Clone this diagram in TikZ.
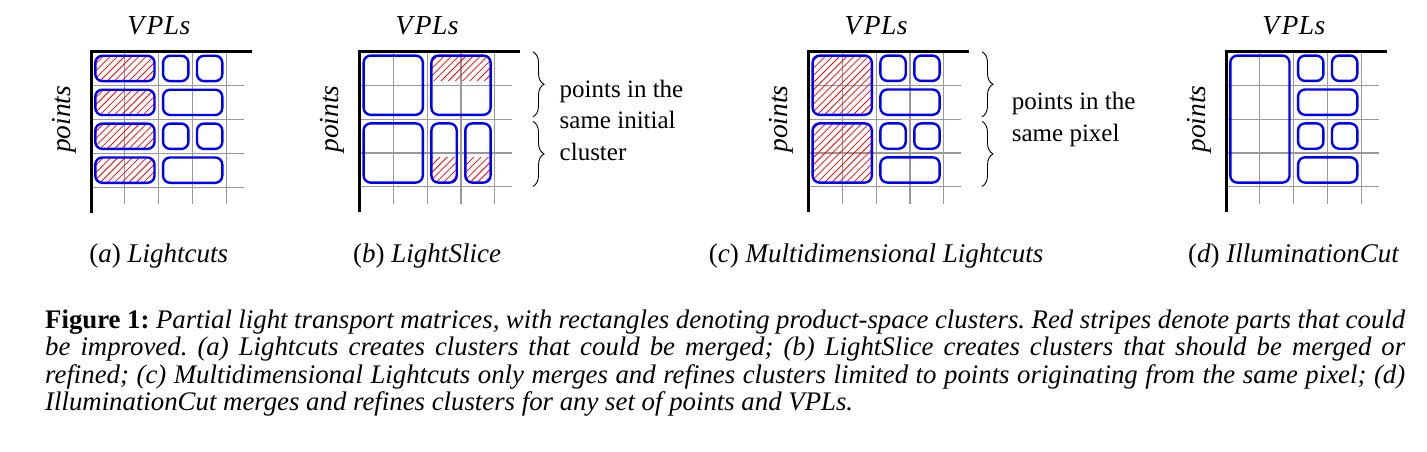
\documentclass[tikz,border=0pt]{standalone}
\usepackage{fontspec}
\setmainfont{Liberation Serif}
\usetikzlibrary{decorations.pathreplacing}
\frenchspacing
\tikzset{
  gridline/.style={draw=black!40, line width=1.1pt},
  axisline/.style={draw=black, line width=3pt, line join=miter},
  cbox/.style={draw=blue, line width=2.4pt, rounded corners=7pt},
  hatchline/.style={draw=red, line width=0.8pt},
  lab/.style={font=\fontsize{27.5}{30}\selectfont\itshape, inner sep=0pt, anchor=base},
  sublab/.style={font=\fontsize{27}{30}\selectfont, inner sep=0pt, anchor=base},
  side/.style={font=\fontsize{25}{32}\selectfont, inner sep=0pt, anchor=base west},
  captext/.style={font=\fontsize{26.8}{27.5}\selectfont, inner sep=0pt, anchor=base west},
  brc/.style={decorate, decoration={brace, amplitude=11pt}, line width=0.9pt},
}
\def\cs{33.9}
\def\ins{4.3}
\newcommand\panel[2]{%
  \def\ox{#1}\def\oy{#2}%
  \foreach \k in {1,...,4} {
    \draw[gridline] ({\ox+\k*\cs},\oy) -- ({\ox+\k*\cs},{\oy+4.5*\cs});
    \draw[gridline] (\ox,{\oy+\k*\cs}) -- ({\ox+4.5*\cs},{\oy+\k*\cs});
  }%
}
\newcommand\axes{%
  \draw[axisline] ({\ox+4.75*\cs},\oy) -- (\ox,\oy) -- (\ox,{\oy+4.75*\cs});%
}
\newcommand\cbx[4]{%
  \draw[cbox] ({\ox+#1*\cs+\ins},{\oy+#2*\cs+\ins}) rectangle ({\ox+(#1+#3)*\cs-\ins},{\oy+(#2+#4)*\cs-\ins});%
}
% hatch: box col,row,w,h ; region col,row,w,h
\newcommand\hatch[8]{%
  \begin{scope}
    \clip[rounded corners=7pt] ({\ox+#1*\cs+\ins},{\oy+#2*\cs+\ins}) rectangle ({\ox+(#1+#3)*\cs-\ins},{\oy+(#2+#4)*\cs-\ins});
    \clip ({\ox+#5*\cs+\ins},{\oy+#6*\cs+\ins}) rectangle ({\ox+(#5+#7)*\cs-\ins},{\oy+(#6+#8)*\cs-\ins});
    \foreach \k in {0,...,45}
      \draw[hatchline] ({\ox+#1*\cs-2.2*\cs+\k*7.2},{\oy+(#2+#4)*\cs}) -- ++({2.2*\cs},{-2.2*\cs});
  \end{scope}%
}
\begin{document}
\begin{tikzpicture}[x=1pt,y=-1pt]
\useasboundingbox (0,0) rectangle (1427,452);

% ---------- (a) Lightcuts
\panel{91}{51.5}
\hatch{0}{0}{2}{1}{0}{0}{2}{1}
\hatch{0}{1}{2}{1}{0}{1}{2}{1}
\hatch{0}{2}{2}{1}{0}{2}{2}{1}
\hatch{0}{3}{2}{1}{0}{3}{2}{1}
\cbx{0}{0}{2}{1}\cbx{2}{0}{1}{1}\cbx{3}{0}{1}{1}
\cbx{0}{1}{2}{1}\cbx{2}{1}{2}{1}
\cbx{0}{2}{2}{1}\cbx{2}{2}{1}{1}\cbx{3}{2}{1}{1}
\cbx{0}{3}{2}{1}\cbx{2}{3}{2}{1}
\axes
\node[lab] (vplA) at ({\ox+2*\cs},35) {V\kern2.5pt P\kern0.5pt L\kern0.5pt s};
\node[lab, rotate=90] (ptsA) at ({\ox-20.5},{\oy+2*\cs}) {points};
\node[sublab] (subA) at ({\ox+2*\cs},262) {(\textit{a}) \textit{Lightcuts}};

% ---------- (b) LightSlice
\panel{359.3}{51.3}
\hatch{2}{0}{2}{2}{2}{0}{2}{1}
\hatch{2}{2}{1}{2}{2}{3}{1}{1}
\hatch{3}{2}{1}{2}{3}{3}{1}{1}
\cbx{0}{0}{2}{2}\cbx{2}{0}{2}{2}
\cbx{0}{2}{2}{2}\cbx{2}{2}{1}{2}\cbx{3}{2}{1}{2}
\axes
\node[lab] (vplB) at ({\ox+2*\cs},35) {V\kern2.5pt P\kern0.5pt L\kern0.5pt s};
\node[lab, rotate=90] (ptsB) at ({\ox-20.5},{\oy+2*\cs}) {points};
\node[sublab] (subB) at ({\ox+2*\cs},262) {(\textit{b}) \textit{LightSlice}};
\coordinate (bA1) at (533,{\oy+0.5});
\coordinate (bA2) at (533,{\oy+2*\cs-2.3});
\coordinate (bA3) at (533,{\oy+2*\cs+2.3});
\coordinate (bA4) at (533,{\oy+4*\cs-0.5});
\draw[brc] (bA1) -- (bA2);
\draw[brc] (bA3) -- (bA4);
\node[side] (tB1) at (559.5,97.2) {points in the};
\node[side] (tB2) at (559.5,128.9) {same initial};
\node[side] (tB3) at (559.5,160.6) {cluster};

% ---------- (c) Multidimensional Lightcuts
\panel{808.3}{51.3}
\hatch{0}{0}{2}{2}{0}{0}{2}{2}
\hatch{0}{2}{2}{2}{0}{2}{2}{2}
\cbx{0}{0}{2}{2}\cbx{2}{0}{1}{1}\cbx{3}{0}{1}{1}\cbx{2}{1}{2}{1}
\cbx{0}{2}{2}{2}\cbx{2}{2}{1}{1}\cbx{3}{2}{1}{1}\cbx{2}{3}{2}{1}
\axes
\node[lab] (vplC) at ({\ox+2*\cs},35) {V\kern2.5pt P\kern0.5pt L\kern0.5pt s};
\node[lab, rotate=90] (ptsC) at ({\ox-20.5},{\oy+2*\cs}) {points};
\node[sublab] (subC) at ({\ox+2*\cs},262) {(\textit{c}) \textit{Multidimensional Lightcuts}};
\coordinate (bC1) at (982,{\oy+0.5});
\coordinate (bC2) at (982,{\oy+2*\cs-2.3});
\coordinate (bC3) at (982,{\oy+2*\cs+2.3});
\coordinate (bC4) at (982,{\oy+4*\cs-0.5});
\draw[brc] (bC1) -- (bC2);
\draw[brc] (bC3) -- (bC4);
\node[side] (tC1) at (1011.7,109.3) {points in the};
\node[side] (tC2) at (1011.7,141.7) {same pixel};

% ---------- (d) IlluminationCut
\panel{1226}{51.3}
\cbx{0}{0}{2}{4}
\cbx{2}{0}{1}{1}\cbx{3}{0}{1}{1}\cbx{2}{1}{2}{1}
\cbx{2}{2}{1}{1}\cbx{3}{2}{1}{1}\cbx{2}{3}{2}{1}
\axes
\node[lab] (vplD) at ({\ox+2*\cs},35) {V\kern2.5pt P\kern0.5pt L\kern0.5pt s};
\node[lab, rotate=90] (ptsD) at ({\ox-20.5},{\oy+2*\cs}) {points};
\node[sublab] (subD) at ({\ox+2*\cs},262) {(\textit{d}) \textit{IlluminationCut}};

% ---------- caption
\node[captext] (cap1) at (45,328.3) {\makebox[1360pt][s]{\textbf{Figure 1:} \itshape Partial light transport matrices, with rectangles denoting product-space clusters. Red stripes denote parts that could}};
\node[captext] (cap2) at (45,355.8) {\makebox[1360pt][s]{\itshape be improved. (a) Lightcuts creates clusters that could be merged; (b) LightSlice creates clusters that should be merged or}};
\node[captext] (cap3) at (45,383.3) {\makebox[1360pt][s]{\itshape refined; (c) Multidimensional Lightcuts only merges and refines clusters limited to points originating from the same pixel; (d)}};
\node[captext] (cap4) at (45,410.8) {\itshape IlluminationCut merges and refines clusters for any set of points and VPLs.};
\end{tikzpicture}
\end{document}
